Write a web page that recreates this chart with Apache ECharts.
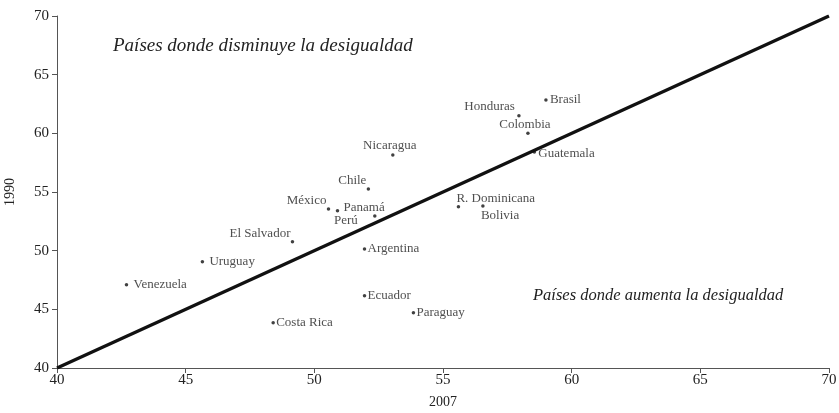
<!DOCTYPE html>
<html>
<head>
<meta charset="utf-8">
<script src="https://cdn.jsdelivr.net/npm/echarts@6/dist/echarts.min.js"></script>
<style>html,body{margin:0;padding:0;background:#fff}#c{width:839px;height:413px}</style>
</head>
<body>
<div id="c"></div>
<script>
const countries = ["Brasil","Honduras","Colombia","Guatemala","R. Dominicana","Bolivia","Nicaragua","Chile","México","Panamá","Perú","El Salvador","Argentina","Uruguay","Venezuela","Ecuador","Paraguay","Costa Rica"];
const gini2007 = [59.0, 57.95, 58.3, 58.55, 55.6, 56.55, 53.05, 52.1, 50.55, 50.9, 52.35, 49.15, 51.95, 45.65, 42.7, 51.95, 53.85, 48.4];
const gini1990 = [62.85, 61.5, 60.0, 58.4, 53.75, 53.8, 58.15, 55.25, 53.55, 53.4, 52.95, 50.75, 50.15, 49.05, 47.1, 46.15, 44.7, 43.85];
const axisTicks = [40, 45, 50, 55, 60, 65, 70];
const equalityLine = [40, 70];

// label placement (style only): [dx, dy, align]
const labelPlace = {
  "Brasil": [4, 0, "left"], "Honduras": [-4, -9, "right"], "Colombia": [-3, -9, "center"],
  "Guatemala": [4, 1, "left"], "R. Dominicana": [-2, -8, "left"], "Bolivia": [-2, 9, "left"],
  "Nicaragua": [-3, -9, "center"], "Chile": [-2, -8, "right"], "México": [-2, -8, "right"],
  "Panamá": [6, -3, "left"], "Perú": [-17, 5, "right"], "El Salvador": [-2, -8, "right"],
  "Argentina": [3, 0, "left"], "Uruguay": [7, 0, "left"], "Venezuela": [7, 0, "left"],
  "Ecuador": [3, 0, "left"], "Paraguay": [3, 0, "left"], "Costa Rica": [3, 0, "left"]
};

const font = "'Liberation Serif', 'DejaVu Serif', serif";
const sym = 3.5;
const pts = countries.map((n, i) => {
  const p = labelPlace[n];
  return {
    name: n, value: [gini2007[i], gini1990[i]],
    label: { show: true, formatter: n, position: [p[0] + sym / 2, p[1] + sym / 2], align: p[2], verticalAlign: "middle",
      fontFamily: font, fontSize: 13, color: "#222" }
  };
});

const chart = echarts.init(document.getElementById("c"), null, { renderer: "canvas" });
const axisCommon = {
  min: axisTicks[0], max: axisTicks[axisTicks.length - 1], interval: 5,
  splitLine: { show: false },
  axisLine: { show: true, lineStyle: { color: "#555", width: 1 } },
  axisTick: { show: true, inside: false, length: 5, lineStyle: { color: "#555" } },
  axisLabel: { fontFamily: font, fontSize: 15, color: "#222" },
  nameTextStyle: { fontFamily: font, fontSize: 14, color: "#222" },
  nameLocation: "middle"
};
chart.setOption({
  animation: false,
  grid: { left: 57, right: 10, top: 16, bottom: 45, containLabel: false, outerBoundsMode: "none" },
  xAxis: Object.assign({}, axisCommon, { type: "value", name: "2007", nameGap: 27, axisLabel: Object.assign({}, axisCommon.axisLabel, { margin: 5 }) }),
  yAxis: Object.assign({}, axisCommon, { type: "value", name: "1990", nameGap: 40, axisLabel: Object.assign({}, axisCommon.axisLabel, { margin: 8 }) }),
  series: [
    { type: "line", data: [[equalityLine[0], equalityLine[0]], [equalityLine[1], equalityLine[1]]], symbol: "none",
      lineStyle: { color: "#111", width: 3.3 }, silent: true, z: 1 },
    { type: "scatter", data: pts, symbolSize: sym, itemStyle: { color: "#111" }, z: 3 }
  ],
  graphic: [
    { type: "text", left: 113, top: 36, style: { text: "Países donde disminuye la desigualdad", font: "italic 19px " + font, fill: "#222" } },
    { type: "text", left: 533, top: 287, style: { text: "Países donde aumenta la desigualdad", font: "italic 16.5px " + font, fill: "#222" } }
  ]
});
</script>
</body>
</html>
